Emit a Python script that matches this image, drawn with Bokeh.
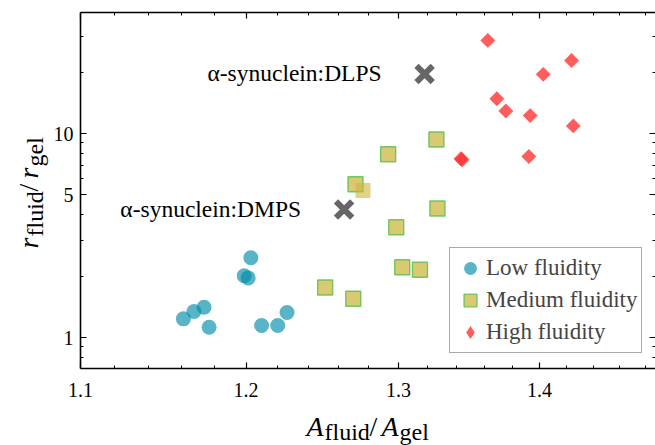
import math
from bokeh.plotting import figure
from bokeh.layouts import row, column
from bokeh.models import (LogAxis, FixedTicker, BasicTickFormatter, Label,
                          Legend, LegendItem, Range1d, CustomJSTickFormatter)
from bokeh.embed import file_html
from bokeh.resources import INLINE

# ---------------- data ----------------
low_x = [1.2030, 1.1988, 1.2013, 1.1611, 1.1676, 1.1738, 1.1769, 1.2098, 1.2201, 1.2261]
low_y = [2.46, 2.01, 1.96, 1.235, 1.341, 1.408, 1.123, 1.145, 1.145, 1.326]
med_x = [1.3262, 1.2930, 1.2710, 1.2985, 1.3269, 1.3026, 1.3148, 1.2509, 1.2695]
med_y = [9.35, 7.92, 5.64, 3.47, 4.29, 2.21, 2.15, 1.76, 1.55]
med_extra_x = [1.2760]
med_extra_y = [5.25]
high_x = [1.3625, 1.4238, 1.4028, 1.3690, 1.3755, 1.3932, 1.4251, 1.3434, 1.3442, 1.3922]
high_y = [28.6, 22.8, 19.5, 14.8, 12.9, 12.25, 10.9, 7.52, 7.44, 7.72]
protein_x = [1.3180, 1.2634]
protein_y = [19.6, 4.24]
protein_labels = ["α-synuclein:DLPS", "α-synuclein:DMPS"]
legend_labels = ["Low fluidity", "Medium fluidity", "High fluidity"]

x_major = [1.1, 1.2, 1.3, 1.4]
x_minor = [1.12, 1.14, 1.16, 1.18, 1.22, 1.24, 1.26, 1.28, 1.32, 1.34,
           1.36, 1.38, 1.42, 1.44, 1.46, 1.48]
y_major = [1, 5, 10]
y_minor = [0.8, 0.9, 2, 3, 4, 6, 7, 8, 9, 20, 30]

FONT = "Liberation Serif"

p = figure(width=605, height=410, x_axis_type="log", y_axis_type="log",
           x_range=Range1d(1.1, 1.488), y_range=Range1d(0.705, 39.2),
           output_backend="svg", toolbar_location=None,
           min_border_left=30, min_border_right=0, min_border_top=12,
           min_border_bottom=42)
p.grid.visible = False
p.outline_line_color = None

def style_axis(ax, ticks, minor, show_labels, line=True):
    ax.ticker = FixedTicker(ticks=ticks, minor_ticks=minor)
    ax.major_tick_in = 6
    ax.major_tick_out = 0
    ax.minor_tick_in = 3
    ax.minor_tick_out = 0
    ax.major_tick_line_width = 1.2
    ax.minor_tick_line_width = 1.0
    ax.major_tick_line_color = "black"
    ax.minor_tick_line_color = "black"
    ax.axis_line_width = 1.6
    ax.axis_line_color = "black" if line else None
    ax.axis_label = None
    if show_labels:
        ax.formatter = BasicTickFormatter()
        ax.major_label_text_font = FONT
        ax.major_label_text_font_size = "20px"
        ax.major_label_text_color = "black"
    else:
        ax.formatter = CustomJSTickFormatter(code="return ''")
        ax.major_label_text_font_size = "1px"
        ax.major_label_standoff = 0

style_axis(p.xaxis[0], x_major, x_minor, True)
p.xaxis[0].major_label_standoff = 14
style_axis(p.yaxis[0], y_major, y_minor, True)
p.yaxis[0].major_label_standoff = 7

top = LogAxis()
style_axis(top, x_major, x_minor, False)
p.add_layout(top, "above")
right = LogAxis()
style_axis(right, y_major, y_minor, False, line=False)
p.add_layout(right, "right")

# ---------------- markers ----------------
r_low = p.scatter(low_x, low_y, marker="circle", size=15,
                  fill_color="#008cab", fill_alpha=0.65, line_color=None)
r_med = p.scatter(med_x, med_y, marker="square", size=15,
                  fill_color="#cbb53a", fill_alpha=0.72,
                  line_color="#5cbf55", line_width=1.4, line_alpha=0.85)
p.scatter(med_extra_x, med_extra_y, marker="square", size=15,
          fill_color="#cbb53a", fill_alpha=0.6, line_color=None)
p.scatter(high_x, high_y, marker="square", angle=math.pi / 4, size=10.5,
          fill_color="#ff3333", fill_alpha=0.8, line_color=None)
# hidden twin used only for the legend swatch (diamond shape)
r_high_leg = p.scatter(high_x, high_y, marker="diamond", size=14,
                       fill_color="#ff3333", fill_alpha=0.8, line_color=None,
                       visible=False)
p.scatter(protein_x, protein_y, marker="x", size=23, line_color="#666666",
          line_width=6)

for px_, py_, txt in zip(protein_x, protein_y, protein_labels):
    p.add_layout(Label(x=px_, y=py_, text=txt, x_offset=-43, y_offset=1,
                       text_align="right", text_baseline="middle",
                       text_font=FONT, text_font_size="23.5px",
                       text_color="black"))

legend = Legend(items=[LegendItem(label=legend_labels[0], renderers=[r_low]),
                       LegendItem(label=legend_labels[1], renderers=[r_med]),
                       LegendItem(label=legend_labels[2], renderers=[r_high_leg])],
                location=(369, 15), border_line_color="#555555",
                border_line_width=1.5, background_fill_color="white",
                background_fill_alpha=1, label_text_font=FONT,
                label_text_font_size="23px", label_standoff=-4,
                glyph_width=32, glyph_height=32, label_height=32,
                spacing=-2, padding=4, margin=0)
p.add_layout(legend, "center")

# ---------------- composed axis labels (separate label strips) ----------------
def strip(w, h):
    f = figure(width=w, height=h, output_backend="svg", toolbar_location=None,
               x_axis_location=None, y_axis_location=None, min_border=0,
               x_range=Range1d(0, 1), y_range=Range1d(0, 1))
    f.grid.visible = False
    f.outline_line_color = None
    return f

def piece(fig, text, sx, sy, size, italic, angle=0.0):
    fig.add_layout(Label(x=sx, y=sy, x_units="screen", y_units="screen",
                         text=text, text_font=FONT, text_font_size=f"{size}px",
                         text_font_style="italic" if italic else "normal",
                         text_align="left", text_baseline="middle",
                         angle=angle, text_color="black"))

# x label strip (its frame is aligned with the main frame: x relative to page x 80)
xlab = strip(605, 35)
piece(xlab, "A", 226, 19, 28, True)
piece(xlab, "fluid", 244, 14, 24, False)
piece(xlab, "/", 289, 19, 28, False)
piece(xlab, "A", 301, 19, 28, True)
piece(xlab, "gel", 319, 14, 24, False)

# y label strip: spans page x 0..50
ylab = strip(50, 445)
ang = math.pi / 2
piece(ylab, "r", 28, 197, 28, True, ang)
piece(ylab, "fluid", 34, 209, 24, False, ang)
piece(ylab, "/", 28, 254, 28, False, ang)
piece(ylab, "r", 28, 267, 28, True, ang)
piece(ylab, "gel", 34, 279, 24, False, ang)

layout = row(ylab, column(p, xlab, spacing=0), spacing=0)
open("out.html", "w").write(file_html(layout, INLINE))
